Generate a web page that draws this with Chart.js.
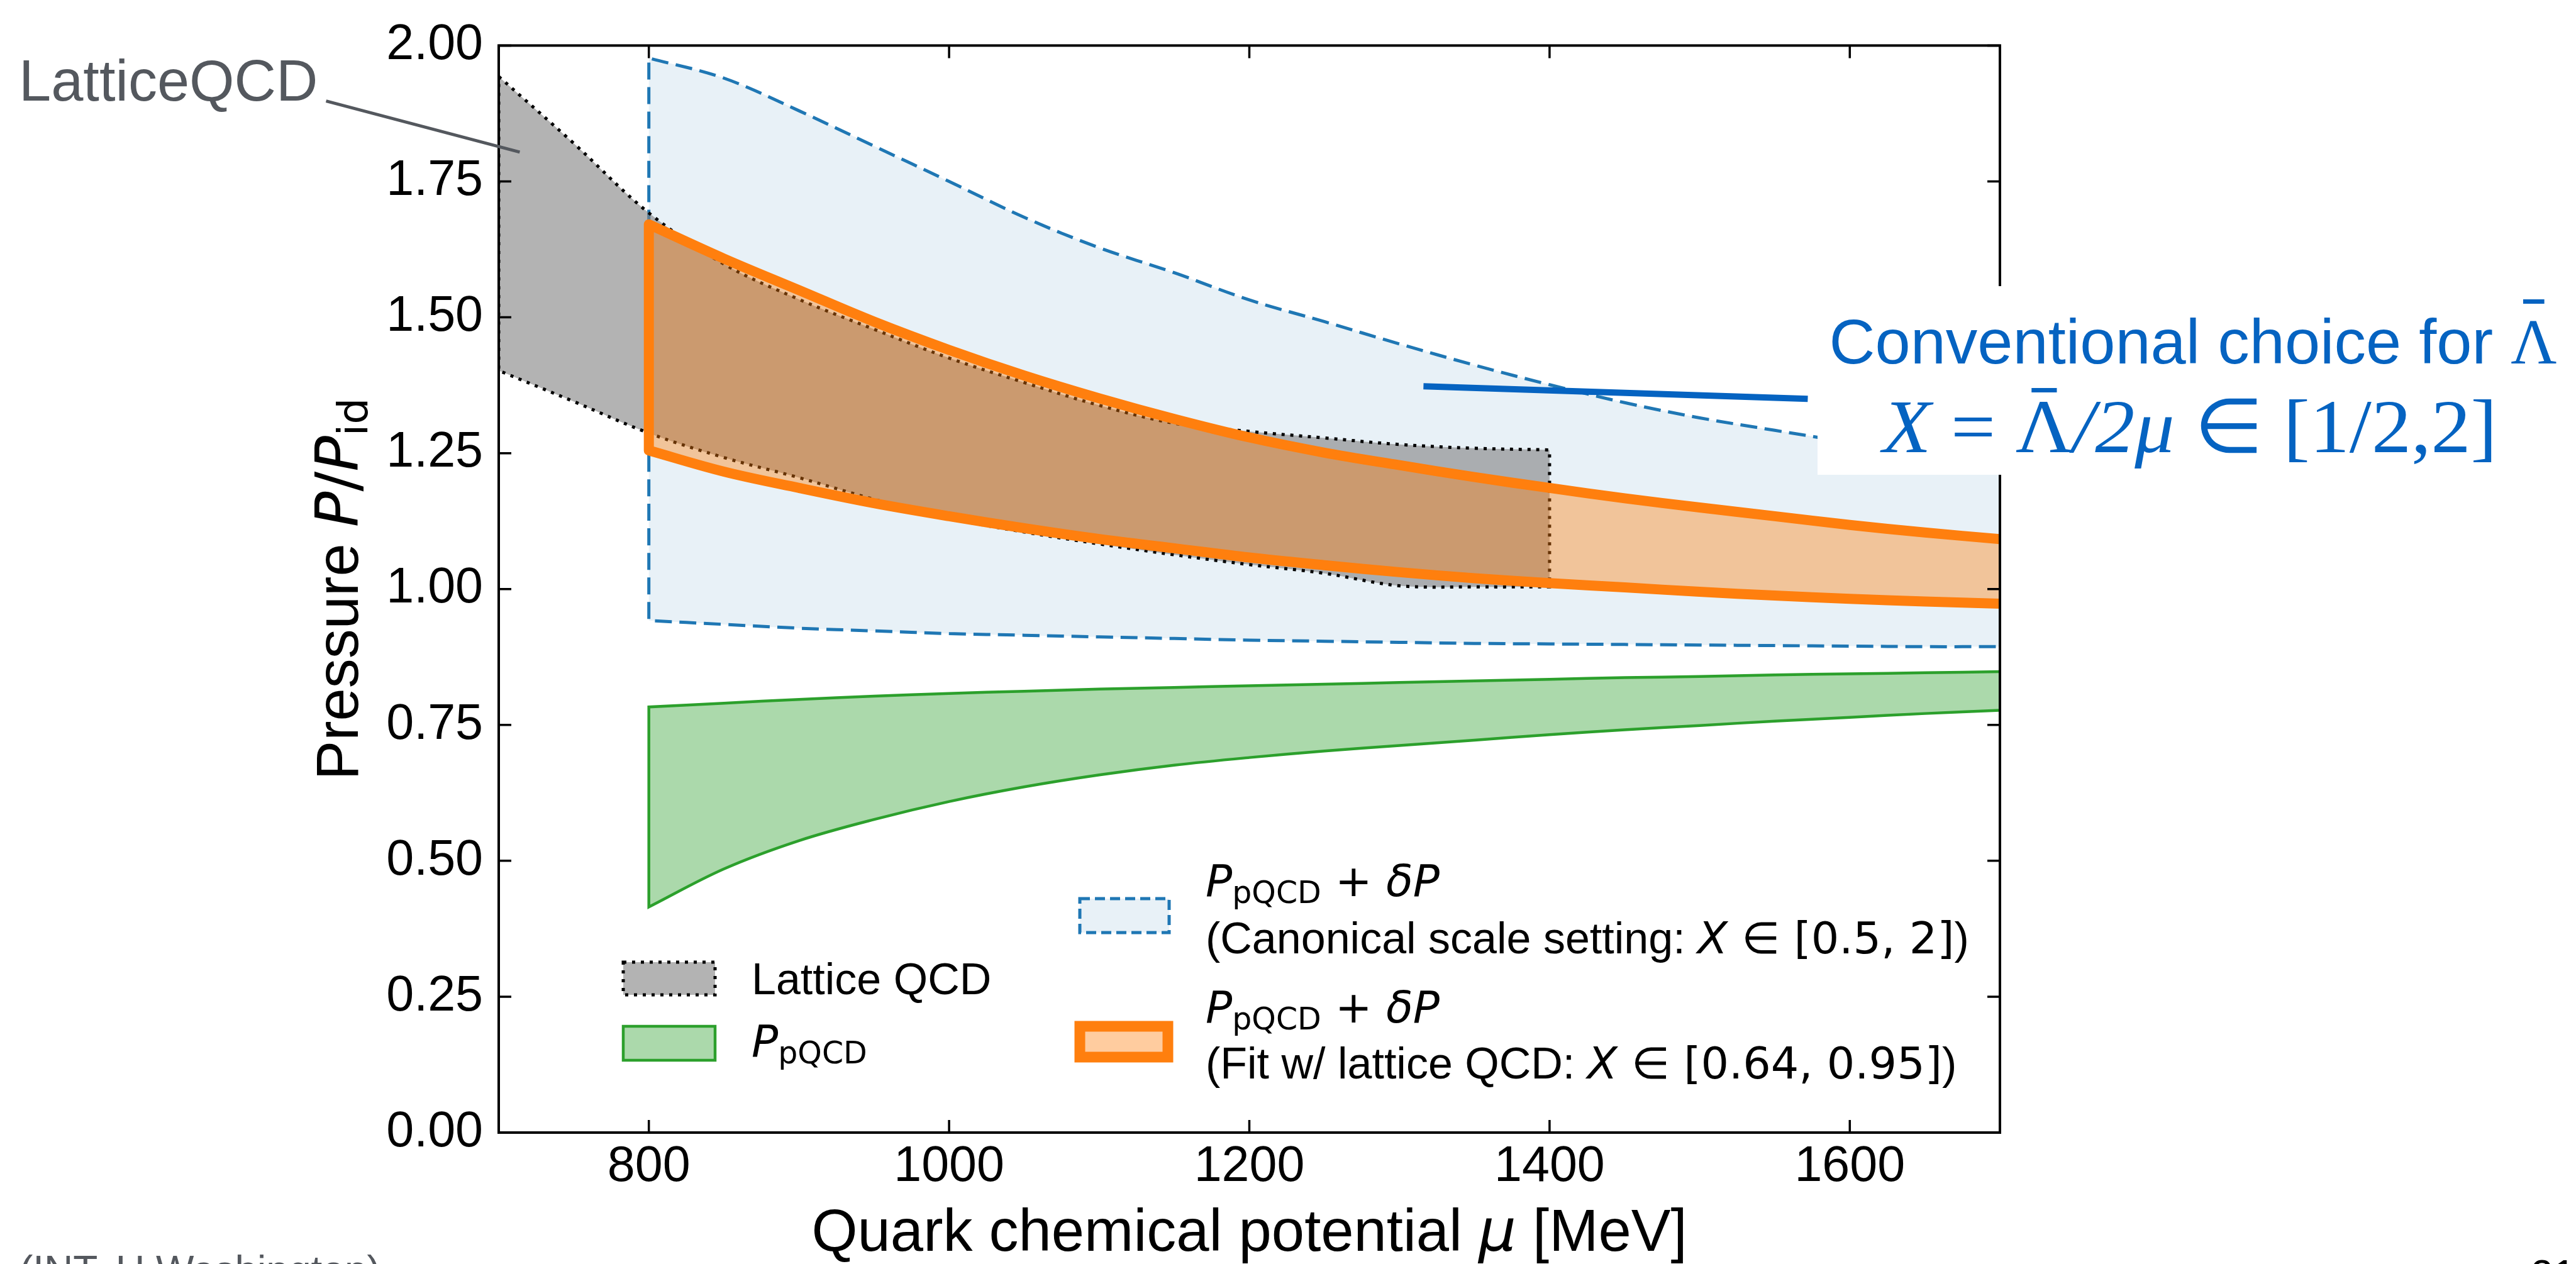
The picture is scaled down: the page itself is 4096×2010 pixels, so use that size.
<!DOCTYPE html>
<html>
<head>
<meta charset="utf-8">
<script src="https://cdn.jsdelivr.net/npm/chart.js@4.4.1/dist/chart.umd.min.js"></script>
<style>
  html, body { margin: 0; padding: 0; background: #fff; }
  #lienzo { width: 4096px; height: 2010px; position: relative; }
</style>
</head>
<body>
<div id="lienzo"><canvas id="grafico" width="4096" height="2010"></canvas></div>
<script>
// Datos (mu en MeV, presion P/P_id)
const muLattice = [700, 750, 800, 850, 900, 950, 1000, 1050, 1100, 1150, 1200, 1250, 1300, 1350, 1400];
const latticeUpper = [1.943, 1.82, 1.692, 1.598, 1.533, 1.478, 1.425, 1.38, 1.338, 1.305, 1.29, 1.278, 1.266, 1.259, 1.256];
const latticeLower = [1.402, 1.345, 1.287, 1.242, 1.205, 1.165, 1.13, 1.105, 1.083, 1.063, 1.045, 1.029, 1.006, 1.004, 1.004];

const muPQCD = [800, 850, 900, 950, 1000, 1050, 1100, 1150, 1200, 1250, 1300, 1350, 1400, 1450, 1500, 1550, 1600, 1650, 1700];
// P_pQCD + dP, X en [0.5, 2]
const canonUpper = [1.977, 1.94, 1.88, 1.815, 1.75, 1.684, 1.628, 1.582, 1.532, 1.492, 1.451, 1.412, 1.376, 1.343, 1.315, 1.292, 1.27, 1.25, 1.232];
const canonLower = [0.942, 0.935, 0.928, 0.923, 0.918, 0.915, 0.912, 0.909, 0.906, 0.904, 0.902, 0.9, 0.899, 0.898, 0.897, 0.896, 0.895, 0.894, 0.894];
// P_pQCD + dP, ajuste con lattice QCD
const fitUpper = [1.671, 1.608, 1.55, 1.492, 1.44, 1.393, 1.351, 1.313, 1.279, 1.251, 1.228, 1.206, 1.186, 1.167, 1.15, 1.134, 1.118, 1.104, 1.092];
const fitLower = [1.255, 1.216, 1.186, 1.158, 1.134, 1.112, 1.092, 1.075, 1.058, 1.044, 1.031, 1.02, 1.011, 1.003, 0.995, 0.988, 0.982, 0.977, 0.973];
// P_pQCD
const pqcdUpper = [0.783, 0.79, 0.797, 0.803, 0.808, 0.812, 0.816, 0.819, 0.822, 0.825, 0.828, 0.831, 0.834, 0.837, 0.839, 0.842, 0.844, 0.846, 0.848];
const pqcdLower = [0.415, 0.485, 0.537, 0.576, 0.609, 0.636, 0.658, 0.676, 0.69, 0.702, 0.712, 0.722, 0.732, 0.741, 0.749, 0.757, 0.764, 0.771, 0.777];

const xTickValores = [800, 1000, 1200, 1400, 1600];
const yTickValores = [0, 0.25, 0.5, 0.75, 1, 1.25, 1.5, 1.75, 2];

// Anotaciones en unidades de datos
const flechaLattice = [[585, 1.898], [714, 1.804]];
const lineaLambda = [[1316, 1.373], [1572, 1.35]];

const SANS = '"Liberation Sans", Arial, sans-serif';
const MATH = '"DejaVu Sans", sans-serif';
const SERIF = '"Liberation Serif", "Times New Roman", serif';

// Contorno cerrado de una banda: borde superior, luego inferior al reves.
// Las esquinas van repetidas para que la curva no se redondee en ellas.
function banda(mu, arriba, abajo) {
  const n = mu.length;
  const pts = mu.map((m, i) => ({ x: m, y: arriba[i] }));
  pts.push({ x: mu[n - 1], y: arriba[n - 1] });
  pts.push({ x: mu[n - 1], y: abajo[n - 1] });
  for (let i = n - 1; i >= 0; i--) pts.push({ x: mu[i], y: abajo[i] });
  pts.push({ x: mu[0], y: abajo[0] });
  pts.push({ x: mu[0], y: arriba[0] });
  return pts;
}

// Borde sin el lado derecho (ese lado cae sobre el eje y no se ve)
function bordeAbierto(mu, arriba, abajo) {
  const n = mu.length;
  const pts = [];
  for (let i = n - 1; i >= 0; i--) pts.push({ x: mu[i], y: arriba[i] });
  pts.push({ x: mu[0], y: arriba[0] });
  pts.push({ x: mu[0], y: abajo[0] });
  for (let i = 0; i < n; i++) pts.push({ x: mu[i], y: abajo[i] });
  return pts;
}

function escribir(ctx, x, y, trozos) {
  let cx = x;
  trozos.forEach(t => {
    ctx.font = t.f;
    ctx.fillText(t.t, cx, y + (t.dy || 0));
    cx += ctx.measureText(t.t).width;
  });
  return cx - x;
}

function medir(ctx, trozos) {
  let w = 0;
  trozos.forEach(t => { ctx.font = t.f; w += ctx.measureText(t.t).width; });
  return w;
}

function pQCD(size) {
  return [
    { t: 'P', f: `italic ${size}px ${MATH}` },
    { t: 'pQCD', f: `${Math.round(size * 0.7)}px ${MATH}`, dy: Math.round(size * 0.16) }
  ];
}

const marco = {
  id: 'marco',
  afterDatasetsDraw(chart) {
    const { ctx, chartArea: a, scales: { x, y } } = chart;
    ctx.save();
    ctx.strokeStyle = '#000';
    ctx.lineWidth = 3.5;
    const largo = 20;
    ctx.beginPath();
    x.ticks.forEach(t => {
      const px = x.getPixelForValue(t.value);
      ctx.moveTo(px, a.bottom); ctx.lineTo(px, a.bottom - largo);
      ctx.moveTo(px, a.top); ctx.lineTo(px, a.top + largo);
    });
    y.ticks.forEach(t => {
      const py = y.getPixelForValue(t.value);
      ctx.moveTo(a.left, py); ctx.lineTo(a.left + largo, py);
      ctx.moveTo(a.right, py); ctx.lineTo(a.right - largo, py);
    });
    ctx.stroke();
    ctx.lineWidth = 4;
    ctx.strokeRect(a.left, a.top, a.right - a.left, a.bottom - a.top);
    ctx.restore();
  },
  afterDraw(chart) {
    const { ctx, chartArea: a, scales: { x, y } } = chart;
    ctx.save();
    ctx.fillStyle = '#000';
    ctx.textBaseline = 'alphabetic';

    // Titulos de ejes
    const tituloX = [
      { t: 'Quark chemical potential ', f: `94px ${SANS}` },
      { t: 'μ', f: `italic 94px ${MATH}` },
      { t: ' [MeV]', f: `94px ${SANS}` }
    ];
    const cx = (a.left + a.right) / 2;
    escribir(ctx, cx - medir(ctx, tituloX) / 2, 1989, tituloX);

    const tituloY = [
      { t: 'Pressure ', f: `94px ${SANS}` },
      { t: 'P', f: `italic 94px ${MATH}` },
      { t: '/', f: `94px ${MATH}` },
      { t: 'P', f: `italic 94px ${MATH}` },
      { t: 'id', f: `66px ${MATH}`, dy: 15 }
    ];
    ctx.save();
    ctx.translate(569, (a.top + a.bottom) / 2);
    ctx.rotate(-Math.PI / 2);
    escribir(ctx, -medir(ctx, tituloY) / 2, 0, tituloY);
    ctx.restore();

    // Etiqueta LatticeQCD con linea guia
    ctx.fillStyle = '#54585e';
    ctx.font = `92px ${SANS}`;
    ctx.fillText('LatticeQCD', 30, 160);
    ctx.strokeStyle = '#54585e';
    ctx.lineWidth = 5;
    ctx.beginPath();
    ctx.moveTo(x.getPixelForValue(flechaLattice[0][0]), y.getPixelForValue(flechaLattice[0][1]));
    ctx.lineTo(x.getPixelForValue(flechaLattice[1][0]), y.getPixelForValue(flechaLattice[1][1]));
    ctx.stroke();

    // Caja blanca de la anotacion
    ctx.fillStyle = '#fff';
    ctx.fillRect(2890, 455, 4096 - 2890, 300);

    const azul = '#0563c1';
    ctx.strokeStyle = azul;
    ctx.lineWidth = 10;
    ctx.beginPath();
    ctx.moveTo(x.getPixelForValue(lineaLambda[0][0]), y.getPixelForValue(lineaLambda[0][1]));
    ctx.lineTo(x.getPixelForValue(lineaLambda[1][0]), y.getPixelForValue(lineaLambda[1][1]));
    ctx.stroke();

    ctx.fillStyle = azul;
    const linea1 = [
      { t: 'Conventional choice for ', f: `101px ${SANS}` },
      { t: 'Λ', f: `101px ${SERIF}` }
    ];
    const w1 = medir(ctx, linea1);
    const x1 = 3487 - w1 / 2;
    escribir(ctx, x1, 578, linea1);
    ctx.font = `101px ${SERIF}`;
    const wl1 = ctx.measureText('Λ').width;
    const xl1 = x1 + w1 - wl1;
    ctx.fillRect(xl1 + wl1 * 0.27, 476, wl1 * 0.46, 7);

    const linea2 = [
      { t: 'X', f: `italic 120px ${SERIF}` },
      { t: ' = ', f: `120px ${SERIF}` },
      { t: 'Λ', f: `120px ${SERIF}` },
      { t: '/2', f: `italic 120px ${SERIF}` },
      { t: 'μ', f: `italic 120px ${SERIF}` },
      { t: ' ∈ ', f: `120px ${SERIF}` },
      { t: '[1/2,2]', f: `120px ${SERIF}` }
    ];
    const w2 = medir(ctx, linea2);
    const estirar = 977 / w2;
    ctx.save();
    ctx.translate(3482 - 977 / 2, 719);
    ctx.scale(estirar, 1);
    escribir(ctx, 0, 0, linea2.slice(0, 2));
    const antes = medir(ctx, linea2.slice(0, 2));
    ctx.font = `120px ${SERIF}`;
    const wl2 = ctx.measureText('Λ').width;
    ctx.fillRect(antes + wl2 * 0.28, -102, wl2 * 0.44, 7);
    escribir(ctx, antes, 0, linea2.slice(2));
    ctx.restore();

    // Leyenda
    ctx.lineJoin = 'miter';
    // Lattice QCD
    ctx.fillStyle = 'rgba(128,128,128,0.6)';
    ctx.fillRect(991, 1530, 146, 52);
    ctx.strokeStyle = '#000';
    ctx.lineWidth = 5;
    ctx.setLineDash([5, 9]);
    ctx.strokeRect(991, 1530, 146, 52);
    ctx.setLineDash([]);
    ctx.fillStyle = '#000';
    escribir(ctx, 1195, 1581, [{ t: 'Lattice QCD', f: `70px ${SANS}` }]);

    // P_pQCD
    ctx.fillStyle = 'rgba(44,160,44,0.4)';
    ctx.fillRect(991, 1632, 146, 54);
    ctx.strokeStyle = '#2ca02c';
    ctx.lineWidth = 4.5;
    ctx.strokeRect(991, 1632, 146, 54);
    ctx.fillStyle = '#000';
    escribir(ctx, 1195, 1680, pQCD(70));

    // Canonical
    ctx.fillStyle = 'rgba(31,119,180,0.1)';
    ctx.fillRect(1717, 1429, 142, 54);
    ctx.strokeStyle = '#1f77b4';
    ctx.lineWidth = 5;
    ctx.setLineDash([16, 8]);
    ctx.strokeRect(1717, 1429, 142, 54);
    ctx.setLineDash([]);
    ctx.fillStyle = '#000';
    const masDelta = [
      { t: ' + ', f: `70px ${MATH}` },
      { t: 'δP', f: `italic 70px ${MATH}` }
    ];
    escribir(ctx, 1917, 1425, pQCD(70).concat(masDelta));
    escribir(ctx, 1917, 1516, [
      { t: '(Canonical scale setting: ', f: `70px ${SANS}` },
      { t: 'X', f: `italic 70px ${MATH}` },
      { t: ' ∈ ', f: `70px ${MATH}` },
      { t: '[0.5, 2]', f: `70px ${MATH}` },
      { t: ')', f: `70px ${SANS}` }
    ]);

    // Fit
    ctx.fillStyle = 'rgba(255,127,14,0.4)';
    ctx.fillRect(1717, 1632, 140, 49);
    ctx.strokeStyle = '#ff7f0e';
    ctx.lineWidth = 17;
    ctx.strokeRect(1717, 1632, 140, 49);
    ctx.fillStyle = '#000';
    escribir(ctx, 1917, 1626, pQCD(70).concat(masDelta));
    escribir(ctx, 1917, 1715, [
      { t: '(Fit w/ lattice QCD: ', f: `70px ${SANS}` },
      { t: 'X', f: `italic 70px ${MATH}` },
      { t: ' ∈ ', f: `70px ${MATH}` },
      { t: '[0.64, 0.95]', f: `70px ${MATH}` },
      { t: ')', f: `70px ${SANS}` }
    ]);

    // Pie de pagina (cortado por el borde)
    ctx.fillStyle = '#54585e';
    ctx.font = `64px ${SANS}`;
    ctx.fillText('(INT, U Washington)', 31, 2042);
    ctx.fillStyle = '#000';
    ctx.fillText('21', 4024, 2049);
    ctx.restore();
  }
};

const comun = { pointRadius: 0, pointHoverRadius: 0, tension: 0.35, clip: 0 };
const SIN_COLOR = 'rgba(0,0,0,0)';

// relleno (sin borde) y borde (sin relleno) por separado
function relleno(label, data, color, order) {
  return Object.assign({}, comun, {
    label, data, fill: 'shape', backgroundColor: color,
    borderColor: SIN_COLOR, borderWidth: 0.01, order
  });
}
function borde(label, data, estilo, order) {
  return Object.assign({}, comun, { label, data, fill: false, order }, estilo);
}

new Chart(document.getElementById('grafico').getContext('2d'), {
  type: 'line',
  data: {
    datasets: [
      borde('Fit w/ lattice QCD (borde)', bordeAbierto(muPQCD, fitUpper, fitLower),
        { borderColor: '#ff7f0e', borderWidth: 16, borderJoinStyle: 'round' }, 1),
      relleno('Fit w/ lattice QCD', banda(muPQCD, fitUpper, fitLower), 'rgba(255,127,14,0.4)', 2),
      Object.assign({}, comun, {
        label: 'Lattice QCD',
        data: banda(muLattice, latticeUpper, latticeLower),
        fill: 'shape',
        borderColor: '#000',
        borderWidth: 5,
        borderDash: [5, 9],
        backgroundColor: 'rgba(128,128,128,0.6)',
        order: 3
      }),
      borde('P_pQCD (borde)', bordeAbierto(muPQCD, pqcdUpper, pqcdLower),
        { borderColor: '#2ca02c', borderWidth: 4.5 }, 4),
      relleno('P_pQCD', banda(muPQCD, pqcdUpper, pqcdLower), 'rgba(44,160,44,0.4)', 5),
      borde('Canonical scale setting (borde)', bordeAbierto(muPQCD, canonUpper, canonLower),
        { borderColor: '#1f77b4', borderWidth: 5, borderDash: [27, 12] }, 6),
      relleno('Canonical scale setting', banda(muPQCD, canonUpper, canonLower), 'rgba(31,119,180,0.1)', 7)
    ]
  },
  options: {
    responsive: false,
    animation: false,
    devicePixelRatio: 1,
    layout: { padding: { top: 46, right: 916, left: 0, bottom: 0 } },
    plugins: { legend: { display: false }, tooltip: { enabled: false } },
    scales: {
      x: {
        type: 'linear', min: 700, max: 1700,
        afterBuildTicks: s => { s.ticks = xTickValores.map(v => ({ value: v })); },
        ticks: {
          maxRotation: 0, autoSkip: false, color: '#000', padding: 8,
          font: { family: 'Liberation Sans', size: 79 },
          callback: v => String(v)
        },
        grid: { display: false, drawTicks: false },
        border: { display: false },
        afterFit: s => { s.height = 209; }
      },
      y: {
        type: 'linear', min: 0, max: 2,
        afterBuildTicks: s => { s.ticks = yTickValores.map(v => ({ value: v })); },
        ticks: {
          autoSkip: false, color: '#000', padding: 25,
          font: { family: 'Liberation Sans', size: 79 },
          callback: v => v.toFixed(2)
        },
        grid: { display: false, drawTicks: false },
        border: { display: false },
        afterFit: s => { s.width = 793; }
      }
    }
  },
  plugins: [marco]
});
</script>
</body>
</html>
